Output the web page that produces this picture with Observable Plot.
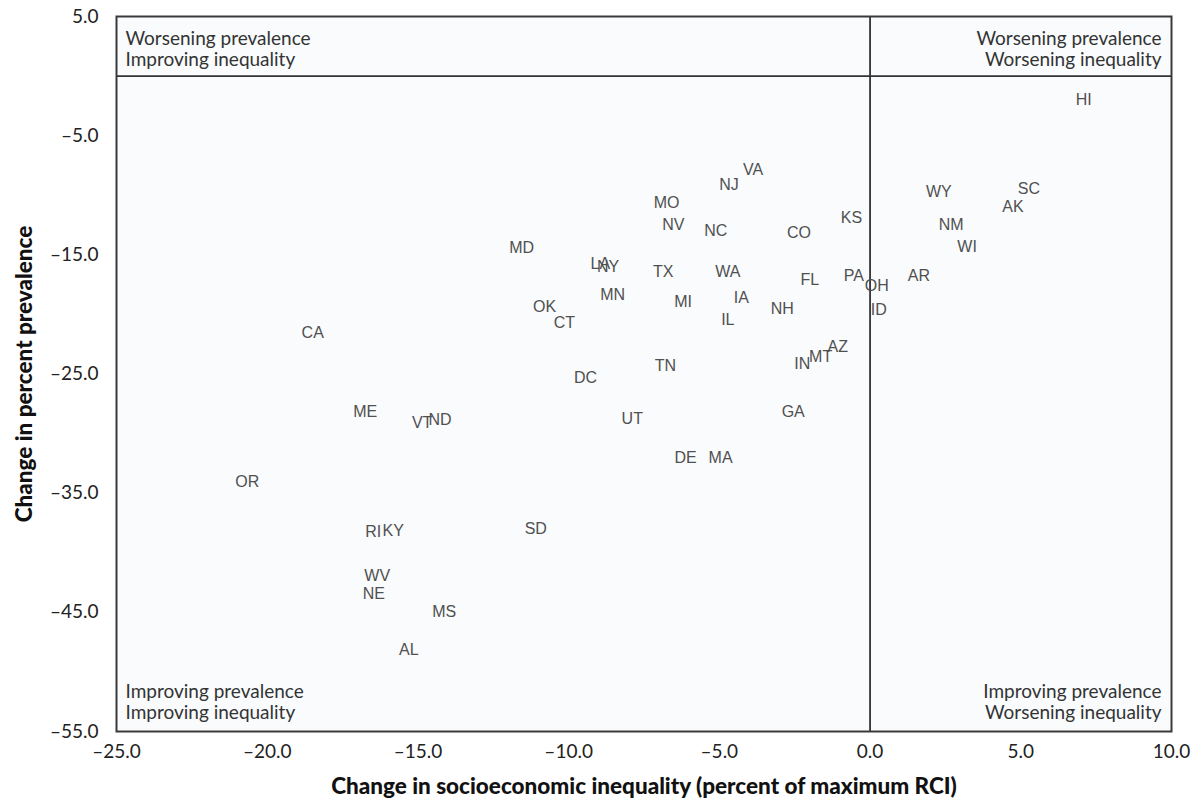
<!DOCTYPE html>
<html><head><meta charset="utf-8">
<script src="https://cdn.jsdelivr.net/npm/d3@7"></script>
<script src="https://cdn.jsdelivr.net/npm/@observablehq/plot@0.6"></script>
<style>
body{margin:0;background:#fff}
#chart{width:1197px;height:805px}
</style>
</head><body><div id="chart"></div>
<script>
const states = ["HI","VA","NJ","MO","NV","NC","CO","KS","MD","LA","NY","TX","WA","FL","PA","OH","MN","MI","IA","NH","ID","OK","CT","IL","CA","ME","VT","ND","DC","OR","RI","KY","SD","WV","NE","MS","AL","TN","UT","DE","MA","IN","MT","AZ","GA","WY","SC","AK","NM","WI","AR"];
const inequalityChange = [7.09,-3.88,-4.68,-6.75,-6.53,-5.12,-2.36,-0.62,-11.56,-8.95,-8.69,-6.86,-4.72,-2.00,-0.54,0.22,-8.54,-6.20,-4.27,-2.91,0.29,-10.80,-10.14,-4.72,-18.49,-16.75,-14.86,-14.27,-9.44,-20.66,-16.48,-15.82,-11.09,-16.35,-16.46,-14.13,-15.30,-6.79,-7.89,-6.12,-4.96,-2.25,-1.64,-1.07,-2.55,2.28,5.27,4.74,2.69,3.22,1.62];
const prevalenceChange = [-1.99,-7.84,-9.12,-10.63,-12.48,-12.96,-13.13,-11.89,-14.44,-15.75,-15.98,-16.46,-16.46,-17.07,-16.73,-17.57,-18.35,-18.92,-18.60,-19.53,-19.59,-19.39,-20.70,-20.45,-21.54,-28.17,-29.13,-28.84,-25.35,-34.02,-38.22,-38.13,-37.99,-41.97,-43.44,-44.93,-48.12,-24.34,-28.76,-32.01,-32.01,-24.14,-23.53,-22.75,-28.20,-9.74,-9.46,-10.94,-12.45,-14.30,-16.73];
const xTicks = [-25,-20,-15,-10,-5,0,5,10];
const yTicks = [-55,-45,-35,-25,-15,-5,5];
const quadrantTexts = [
  "Worsening prevalence\nImproving inequality",
  "Worsening prevalence\nWorsening inequality",
  "Improving prevalence\nImproving inequality",
  "Improving prevalence\nWorsening inequality"
];
const quadrantAnchors = ["top-left","top-right","bottom-left","bottom-right"];
const xTitle = "Change in socioeconomic inequality (percent of maximum RCI)";
const yTitle = "Change in percent prevalence";

const data = states.map((s,i)=>({state:s, x:inequalityChange[i], y:prevalenceChange[i]}));
const fmt = d => d.toFixed(1).replace("-", "\u2013");

const quadMarks = quadrantTexts.map((t,i)=>{
  const a = quadrantAnchors[i];
  const left = a.endsWith("left");
  const top = a.startsWith("top");
  return Plot.text([t], {
    frameAnchor: a,
    textAnchor: left ? "start" : "end",
    lineAnchor: top ? "top" : "bottom",
    dx: left ? 9 : -10,
    dy: top ? 14 : -13,
    fontSize: 19, lineHeight: 1.1, fill: "#333",
    fontFamily: "Lato"
  });
});

const chart = Plot.plot({
  width: 1197, height: 805,
  marginLeft: 116, marginRight: 26, marginTop: 16, marginBottom: 74,
  style: {fontFamily: "Lato", fontSize: "19px", color: "#222", background: "#fff"},
  x: {domain: [-25, 10]},
  y: {domain: [-55, 5]},
  marks: [
    Plot.frame({fill: "#f9fbfd", stroke: null}),
    Plot.ruleX([0], {stroke: "#333", strokeWidth: 1.8}),
    Plot.ruleY([0], {stroke: "#333", strokeWidth: 1.8}),
    ...quadMarks,
    Plot.text(data, {x: "x", y: "y", text: "state", fontFamily: "Liberation Sans, Arial, sans-serif", fontSize: 16, fill: "#505050"}),
    Plot.axisX(xTicks, {tickSize: 0, tickPadding: 13, tickFormat: fmt, label: xTitle, labelAnchor: "center", labelArrow: "none", labelOffset: 62}),
    Plot.axisY(yTicks, {tickSize: 0, tickPadding: 18, tickFormat: fmt, label: yTitle, labelAnchor: "center", labelArrow: "none", labelOffset: 100}),
    Plot.frame({stroke: "#3a3a3a", strokeWidth: 2})
  ]
});
document.getElementById("chart").appendChild(chart);
d3.select(chart).selectAll('g[aria-label="x-axis label"] text, g[aria-label="y-axis label"] text')
  .style("font-weight", "900").style("fill", "#111").style("font-size", "22.5px");
</script>
</body></html>
